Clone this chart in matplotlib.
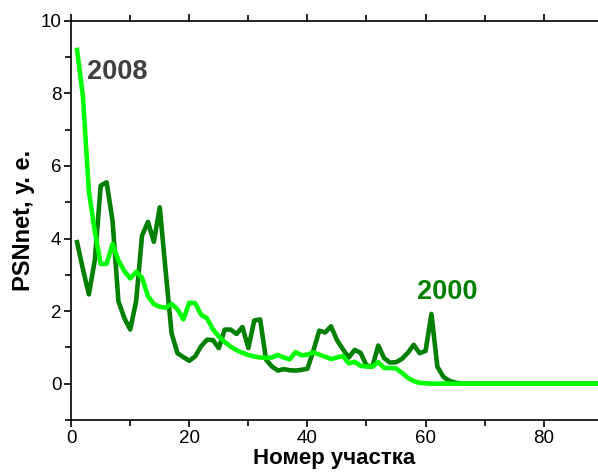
import numpy as np
import matplotlib.pyplot as plt
from matplotlib.ticker import MultipleLocator

plt.rcParams["font.family"] = ["Liberation Sans", "DejaVu Sans"]

# PSNnet by plot number, 2000 survey
psn_2000 = [3.9, 3.15, 2.46, 3.4, 5.46, 5.55, 4.5, 2.27, 1.81, 1.49,
            2.27, 4.08, 4.46, 3.91, 4.86, 3.1, 1.39, 0.84, 0.73, 0.63,
            0.75, 1.03, 1.21, 1.2, 0.98, 1.49, 1.49, 1.37, 1.56, 0.98,
            1.74, 1.77, 0.66, 0.47, 0.36, 0.40, 0.37, 0.36, 0.38, 0.41,
            0.9, 1.46, 1.41, 1.58, 1.2, 0.95, 0.72, 0.93, 0.85, 0.5,
            0.47, 1.05, 0.7, 0.58, 0.59, 0.68, 0.85, 1.07, 0.84, 0.9,
            1.92, 0.47, 0.19, 0.08, 0.03, 0.0, 0.0, 0.0, 0.0, 0.0,
            0.0, 0.0, 0.0, 0.0, 0.0, 0.0, 0.0, 0.0, 0.0, 0.0,
            0.0, 0.0, 0.0, 0.0, 0.0, 0.0, 0.0, 0.0, 0.0, 0.0]

# PSNnet by plot number, 2008 survey
psn_2008 = [9.2, 7.9, 5.3, 4.2, 3.3, 3.3, 3.85, 3.4, 3.1, 2.9,
            3.08, 2.92, 2.41, 2.19, 2.12, 2.09, 2.2, 2.05, 1.77, 2.23,
            2.22, 1.9, 1.8, 1.5, 1.3, 1.15, 1.02, 0.92, 0.85, 0.79,
            0.75, 0.72, 0.71, 0.72, 0.79, 0.72, 0.67, 0.87, 0.78, 0.8,
            0.86, 0.8, 0.74, 0.68, 0.72, 0.76, 0.56, 0.6, 0.49, 0.47,
            0.47, 0.59, 0.43, 0.43, 0.42, 0.3, 0.16, 0.07, 0.02, 0.01,
            0.0, 0.0, 0.0, 0.0, 0.0, 0.0, 0.0, 0.0, 0.0, 0.0,
            0.0, 0.0, 0.0, 0.0, 0.0, 0.0, 0.0, 0.0, 0.0, 0.0,
            0.0, 0.0, 0.0, 0.0, 0.0, 0.0, 0.0, 0.0, 0.0, 0.0]

plot_no = np.arange(1, len(psn_2000) + 1)

fig = plt.figure(figsize=(5.98, 4.75), dpi=100)
ax = fig.add_axes([0.119, 0.116, 0.881, 0.84])

ax.plot(plot_no, psn_2000, color="#008000", lw=3.3, solid_joinstyle="round")
ax.plot(plot_no, psn_2008, color="#00ff00", lw=3.3, solid_joinstyle="round")

ax.text(2.7, 8.4, "2008", color="#404040", fontsize=19.5, fontweight="bold")
ax.text(58.6, 2.33, "2000", color="#008000", fontsize=19.5, fontweight="bold")

ax.set_xlim(0, 89.2)
ax.set_ylim(-1, 10)
ax.xaxis.set_major_locator(MultipleLocator(20))
ax.xaxis.set_minor_locator(MultipleLocator(10))
ax.yaxis.set_major_locator(MultipleLocator(2))
ax.yaxis.set_minor_locator(MultipleLocator(1))
ax.tick_params(which="both", direction="out", top=True, right=False,
               labelsize=13.5, width=1.2)
ax.tick_params(which="major", length=5, pad=2)
ax.tick_params(which="minor", length=4)
ax.spines["right"].set_visible(False)
for s in ["left", "bottom", "top"]:
    ax.spines[s].set_linewidth(1.2)

ax.set_xlabel("Номер участка", fontsize=16, fontweight="bold", labelpad=1)
ax.set_ylabel("PSNnet, у. е.", fontsize=17, fontweight="bold", labelpad=4)

fig.savefig("out.png", dpi=100)
